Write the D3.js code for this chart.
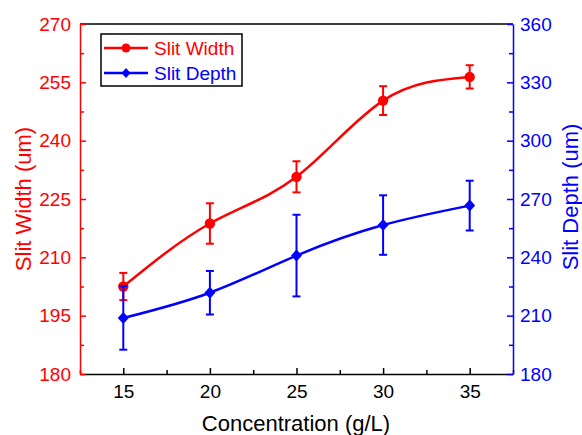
<!DOCTYPE html>
<html>
<head>
<meta charset="utf-8">
<script src="https://cdn.jsdelivr.net/npm/d3@7"></script>
<style>
  body { margin: 0; background: #fff; }
  svg text { font-family: "Liberation Sans", Arial, sans-serif; }
</style>
</head>
<body>
<div id="chart"></div>
<script>
// values
const concentration = [15, 20, 25, 30, 35];
const slitWidth = [202.5, 218.7, 230.7, 250.3, 256.4];
const slitWidthErr = [3.5, 5.2, 4.0, 3.7, 3.0];
const slitDepth = [208.8, 221.8, 240.9, 256.6, 266.6];
const slitDepthErr = [16.3, 11.2, 21.0, 15.3, 12.8];

const xTicks = [15, 20, 25, 30, 35];
const xMinorTicks = [12.5, 17.5, 22.5, 27.5, 32.5, 37.5];
const leftTicks = [180, 195, 210, 225, 240, 255, 270];
const leftMinorTicks = [187.5, 202.5, 217.5, 232.5, 247.5, 262.5];
const rightTicks = [180, 210, 240, 270, 300, 330, 360];
const rightMinorTicks = [195, 225, 255, 285, 315, 345];

const seriesNames = ["Slit Width", "Slit Depth"];

let margin = { top: 24, left: 80, right: 69, bottom: 61 },
  width = 582,
  height = 435,
  innerW = width - margin.left - margin.right,
  innerH = height - margin.top - margin.bottom;

const RED = "#ff0000", BLUE = "#0000ff";

const svg = d3.select("#chart")
  .append("svg")
    .attr("width", width)
    .attr("height", height);

const g = svg.append("g")
  .attr("transform", "translate(" + margin.left + "," + margin.top + ")");

const xScale = d3.scaleLinear().domain([12.5, 37.5]).range([0, innerW]);
const yLeft = d3.scaleLinear().domain([180, 270]).range([innerH, 0]);
const yRight = d3.scaleLinear().domain([180, 360]).range([innerH, 0]);

// top frame line
g.append("line")
  .attr("x1", 0).attr("x2", innerW)
  .attr("y1", 0).attr("y2", 0)
  .attr("stroke", "#000").attr("stroke-width", 1.5);

function styleAxis(sel, color) {
  sel.selectAll("path.domain").attr("stroke", color).attr("stroke-width", 1.5);
  sel.selectAll(".tick line").attr("stroke", color).attr("stroke-width", 1.5);
  sel.selectAll(".tick text")
    .attr("fill", color)
    .style("font-size", "19px")
    .style("font-family", "'Liberation Sans', Arial, sans-serif");
}

// bottom axis
const xAxisG = g.append("g")
  .attr("transform", "translate(0," + innerH + ")")
  .call(d3.axisBottom(xScale).tickValues(xTicks).tickSizeInner(-6).tickSizeOuter(0).tickPadding(11));
styleAxis(xAxisG, "#000");
g.append("g")
  .attr("transform", "translate(0," + innerH + ")")
  .call(d3.axisBottom(xScale).tickValues(xMinorTicks).tickSize(-4).tickFormat(""))
  .call(s => { s.select(".domain").remove(); s.selectAll("line").attr("stroke", "#000").attr("stroke-width", 1.5); });

// left axis
const leftG = g.append("g")
  .call(d3.axisLeft(yLeft).tickValues(leftTicks).tickSizeInner(-6).tickSizeOuter(0).tickPadding(9));
styleAxis(leftG, RED);
g.append("g")
  .call(d3.axisLeft(yLeft).tickValues(leftMinorTicks).tickSize(-4).tickFormat(""))
  .call(s => { s.select(".domain").remove(); s.selectAll("line").attr("stroke", RED).attr("stroke-width", 1.5); });

// right axis
const rightG = g.append("g")
  .attr("transform", "translate(" + innerW + ",0)")
  .call(d3.axisRight(yRight).tickValues(rightTicks).tickSizeInner(-6).tickSizeOuter(0).tickPadding(7));
styleAxis(rightG, BLUE);
g.append("g")
  .attr("transform", "translate(" + innerW + ",0)")
  .call(d3.axisRight(yRight).tickValues(rightMinorTicks).tickSize(-4).tickFormat(""))
  .call(s => { s.select(".domain").remove(); s.selectAll("line").attr("stroke", BLUE).attr("stroke-width", 1.5); });

// axis titles
svg.append("text")
  .attr("x", 296).attr("y", 431)
  .attr("text-anchor", "middle")
  .style("font-size", "22px")
  .attr("fill", "#000")
  .text("Concentration (g/L)");

svg.append("text")
  .attr("transform", "translate(31,199) rotate(-90)")
  .attr("text-anchor", "middle")
  .style("font-size", "22px")
  .attr("fill", RED)
  .text("Slit Width (um)");

svg.append("text")
  .attr("transform", "translate(578,197) rotate(-90)")
  .attr("text-anchor", "middle")
  .style("font-size", "22px")
  .attr("fill", BLUE)
  .text("Slit Depth (um)");

// series
function drawSeries(values, errs, yScale, color, marker) {
  const pts = concentration.map((c, i) => ({ x: c, y: values[i], e: errs[i] }));
  const line = d3.line()
    .x(d => xScale(d.x))
    .y(d => yScale(d.y))
    .curve(d3.curveNatural);

  const s = g.append("g");
  s.append("path")
    .datum(pts)
    .attr("d", line)
    .attr("fill", "none")
    .attr("stroke", color)
    .attr("stroke-width", 2.5);

  const eb = s.selectAll(".err").data(pts).enter().append("g");
  eb.append("line")
    .attr("x1", d => xScale(d.x)).attr("x2", d => xScale(d.x))
    .attr("y1", d => yScale(d.y - d.e)).attr("y2", d => yScale(d.y + d.e))
    .attr("stroke", color).attr("stroke-width", 2);
  [1, -1].forEach(sign => {
    eb.append("line")
      .attr("x1", d => xScale(d.x) - 4).attr("x2", d => xScale(d.x) + 4)
      .attr("y1", d => yScale(d.y + sign * d.e)).attr("y2", d => yScale(d.y + sign * d.e))
      .attr("stroke", color).attr("stroke-width", 2);
  });

  s.selectAll(".mk").data(pts).enter().append("path")
    .attr("transform", d => "translate(" + xScale(d.x) + "," + yScale(d.y) + ")")
    .attr("d", marker)
    .attr("fill", color);
}

const circleMark = d3.symbol().type(d3.symbolCircle).size(85)();
const diamondMark = "M0,-6L5.5,0L0,6L-5.5,0Z";

drawSeries(slitWidth, slitWidthErr, yLeft, RED, circleMark);
drawSeries(slitDepth, slitDepthErr, yRight, BLUE, diamondMark);

// legend
const legend = svg.append("g").attr("transform", "translate(101,34)");
legend.append("rect")
  .attr("width", 141).attr("height", 52)
  .attr("fill", "#fff")
  .attr("stroke", "#000").attr("stroke-width", 1.5);

const legendColors = [RED, BLUE];
const legendMarks = [circleMark, "M0,-5L4.5,0L0,5L-4.5,0Z"];
seriesNames.forEach((name, i) => {
  const row = legend.append("g").attr("transform", "translate(0," + (14 + i * 25) + ")");
  row.append("line")
    .attr("x1", 3).attr("x2", 47)
    .attr("stroke", legendColors[i]).attr("stroke-width", 2.5);
  row.append("path")
    .attr("transform", "translate(25,0)" + (i === 0 ? " scale(0.85)" : ""))
    .attr("d", legendMarks[i])
    .attr("fill", legendColors[i]);
  row.append("text")
    .attr("x", 53).attr("y", 0).attr("dy", "0.35em")
    .style("font-size", "19px")
    .attr("fill", legendColors[i])
    .text(name);
});
</script>
</body>
</html>
